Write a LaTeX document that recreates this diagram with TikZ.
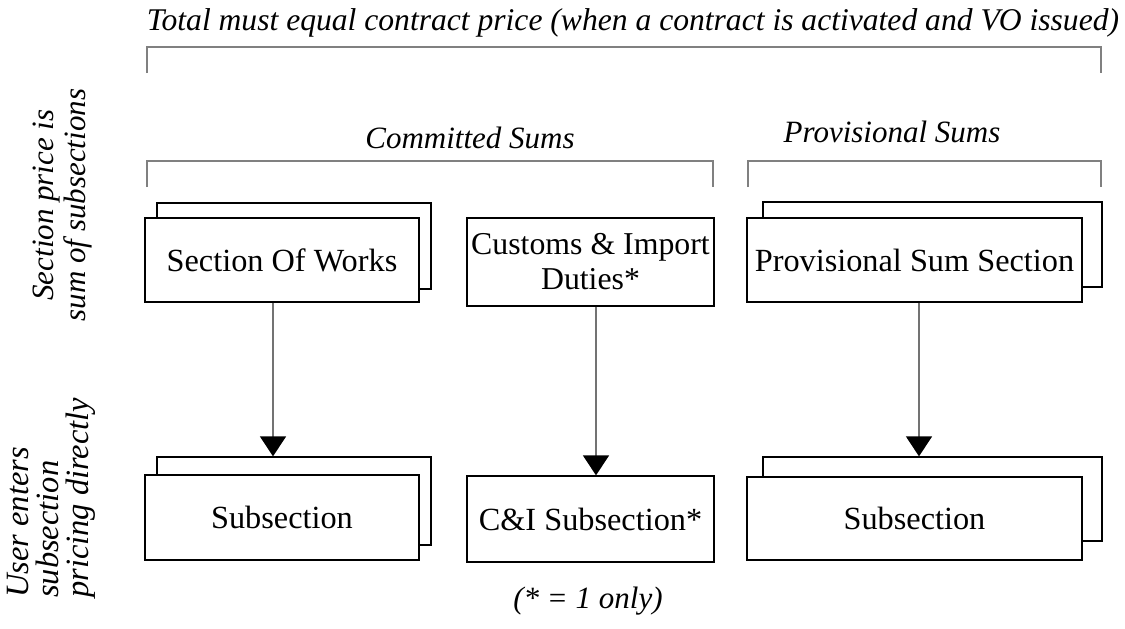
\documentclass[tikz,border=0pt]{standalone}
\usepackage{fontspec}
\setmainfont{Liberation Serif}
\usetikzlibrary{arrows.meta}
\begin{document}
\begin{tikzpicture}[x=1pt,y=-1pt,
  box/.style={draw=black,line width=1.3pt,fill=white,inner sep=0pt,align=center,font=\fontsize{32.3}{35}\selectfont},
  brk/.style={draw=black!50,line width=2pt},
  conn/.style={draw=black!55,line width=1.5pt,-{Triangle[width=26pt,length=20pt,color=black]}},
  lbl/.style={font=\fontsize{31}{31}\selectfont\itshape,inner sep=0pt}
]
\useasboundingbox (0,0) rectangle (1125,629);
% back boxes
\node[box,minimum width=274pt,minimum height=86pt] (sowB) at (294,246) {};
\node[box,minimum width=274pt,minimum height=84pt] (sow) at (282,260) {Section Of Works};
\node[box,minimum width=247pt,minimum height=88pt,font=\fontsize{31.8}{35}\selectfont] (cid) at (590.5,262) {Customs \& Import\\Duties*};
\node[box,minimum width=339pt,minimum height=85pt] (psB) at (932.5,244.5) {};
\node[box,minimum width=335pt,minimum height=84pt] (ps) at (914.5,260) {Provisional Sum Section};
\node[box,minimum width=274pt,minimum height=88pt] (sub1B) at (294,501) {};
\node[box,minimum width=274pt,minimum height=85pt] (sub1) at (282,517.5) {Subsection};
\node[box,minimum width=247pt,minimum height=86pt] (cis) at (590.5,519) {C\&I Subsection*};
\node[box,minimum width=339pt,minimum height=84pt] (sub2B) at (932.5,499) {};
\node[box,minimum width=335pt,minimum height=83pt] (sub2) at (914.5,518.5) {Subsection};
% connectors
\coordinate (a1) at (273,0);
\coordinate (a2) at (596,0);
\coordinate (a3) at (919,0);
\draw[conn] (sow.south -| a1) -- (sub1B.north -| a1);
\draw[conn] (cid.south -| a2) -- (cis.north -| a2);
\draw[conn] (ps.south -| a3) -- (sub2B.north -| a3);
% brackets
\coordinate (t1) at (147,73); \coordinate (t2) at (1101,73);
\draw[brk] (t1) -- ++(0,-26) -| (t2);
\coordinate (c1) at (147,187); \coordinate (c2) at (713,187);
\draw[brk] (c1) -- ++(0,-26) -| (c2);
\coordinate (p1) at (748,187); \coordinate (p2) at (1101,187);
\draw[brk] (p1) -- ++(0,-26) -| (p2);
% labels
\node[lbl,font=\fontsize{31.6}{31}\selectfont\itshape] (top) at (633,23) {Total must equal contract price (when a contract is activated and VO issued)};
\node[lbl,anchor=base] (cs) at (470,148) {Committed Sums};
\node[lbl,anchor=base] (pss) at (892,142) {Provisional Sums};
\node[lbl] (note) at (588,601) {(* = 1 only)};
\node[lbl,rotate=90,align=center,font=\fontsize{31}{32}\selectfont\itshape] (l1) at (63,205) {Section price is\\sum of subsections};
\node[lbl,rotate=90,anchor=west,align=left,font=\fontsize{32.5}{30}\selectfont\itshape] (l2) at (51,598) {User enters\\subsection\\pricing directly};
\end{tikzpicture}
\end{document}
